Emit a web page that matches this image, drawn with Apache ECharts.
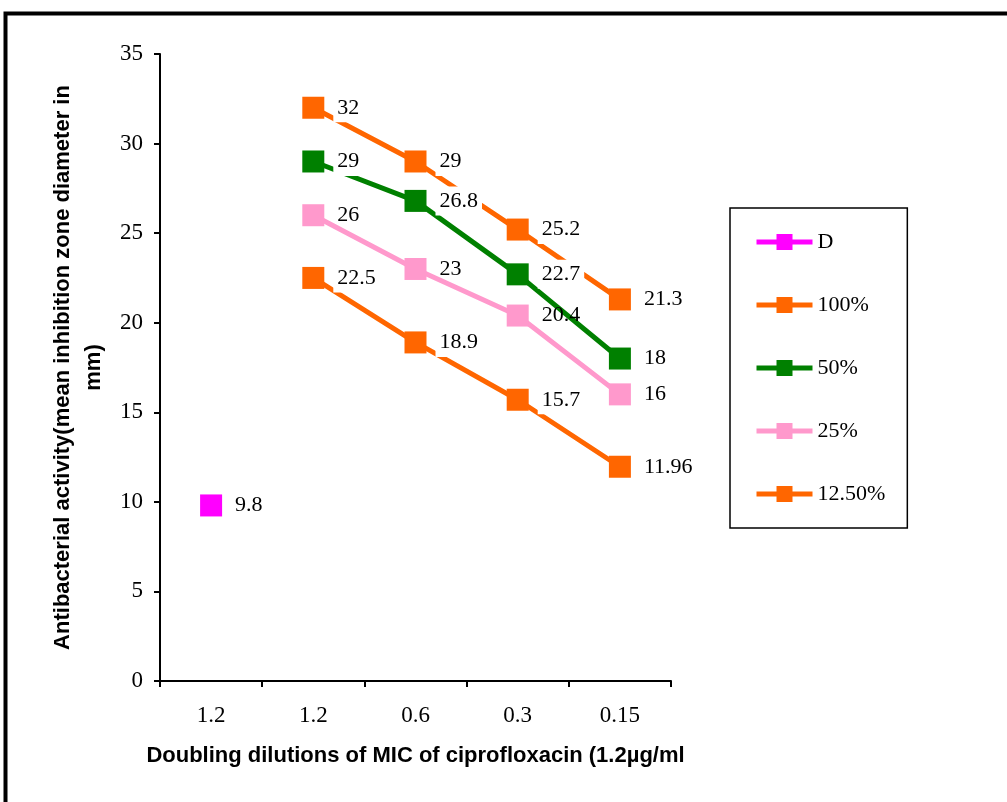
<!DOCTYPE html>
<html>
<head>
<meta charset="utf-8">
<script src="https://cdn.jsdelivr.net/npm/echarts@6/dist/echarts.min.js"></script>
<style>
html,body{margin:0;padding:0;background:#fff;}
#chart{width:1007px;height:802px;}
</style>
</head>
<body>
<div id="chart"></div>
<script>
const categories = ['1.2', '1.2', '0.6', '0.3', '0.15'];
const seriesNames = ['D', '100%', '50%', '25%', '12.50%'];
const dValues = [9.8, '-', '-', '-', '-'];
const v100 = ['-', 32, 29, 25.2, 21.3];
const v50 = ['-', 29, 26.8, 22.7, 18];
const v25 = ['-', 26, 23, 20.4, 16];
const v125 = ['-', 22.5, 18.9, 15.7, 11.96];
const yTicks = { min: 0, max: 35, interval: 5 };

const colors = ['#FF00FF', '#FF6600', '#008000', '#FF99CC', '#FF6600'];
const values = [dValues, v100, v50, v25, v125];
const withBg = [true, true, true, false, true];

const chart = echarts.init(document.getElementById('chart'));

const series = seriesNames.map((name, i) => ({
  name: name,
  type: 'line',
  data: values[i],
  symbol: 'rect',
  symbolSize: 22,
  showAllSymbol: true,
  connectNulls: false,
  lineStyle: { color: colors[i], width: 5 },
  itemStyle: { color: colors[i] },
  label: {
    show: true,
    position: 'right',
    distance: 9,
    color: '#000',
    fontFamily: 'Liberation Serif',
    fontSize: 22,
    backgroundColor: withBg[i] ? '#fff' : 'transparent',
    padding: [3, 4, 4, 4]
  },
  emphasis: { disabled: true }
}));

chart.setOption({
  animation: false,
  backgroundColor: '#fff',
  graphic: [{
    type: 'rect',
    shape: { x: 5.5, y: 13.5, width: 1100, height: 900 },
    style: { fill: 'none', stroke: '#000', lineWidth: 4 },
    silent: true
  }],
  grid: { left: 160, right: 336, top: 54, bottom: 121 },
  legend: {
    orient: 'vertical',
    left: 730,
    top: 208,
    itemWidth: 56,
    itemHeight: 20,
    itemGap: 41,
    padding: [23, 22, 23, 24],
    borderColor: '#000',
    borderWidth: 1.5,
    lineStyle: { width: 5 },
    textStyle: { fontFamily: 'Liberation Serif', fontSize: 22, color: '#000' },
    data: seriesNames
  },
  xAxis: {
    type: 'category',
    data: categories,
    boundaryGap: true,
    name: 'Doubling dilutions of MIC of ciprofloxacin (1.2µg/ml',
    nameLocation: 'middle',
    nameGap: 64,
    nameTextStyle: { fontFamily: 'Liberation Sans', fontWeight: 'bold', fontSize: 22, color: '#000' },
    axisLine: { lineStyle: { color: '#000', width: 2 } },
    axisTick: { show: true, inside: false, length: 6, alignWithLabel: false, lineStyle: { color: '#000', width: 2 } },
    axisLabel: { fontFamily: 'Liberation Serif', fontSize: 23, color: '#000', margin: 23 },
    splitLine: { show: false }
  },
  yAxis: {
    type: 'value',
    min: yTicks.min,
    max: yTicks.max,
    interval: yTicks.interval,
    name: 'Antibacterial activity(mean inhibition zone diameter in\nmm)',
    nameLocation: 'middle',
    nameRotate: 90,
    nameGap: 45,
    nameTextStyle: { fontFamily: 'Liberation Sans', fontWeight: 'bold', fontSize: 22, color: '#000', lineHeight: 31 },
    axisLine: { show: true, lineStyle: { color: '#000', width: 2 } },
    axisTick: { show: true, length: 6, lineStyle: { color: '#000', width: 2 } },
    axisLabel: { fontFamily: 'Liberation Serif', fontSize: 23, color: '#000', margin: 17 },
    splitLine: { show: false }
  },
  series: series
});
</script>
</body>
</html>
